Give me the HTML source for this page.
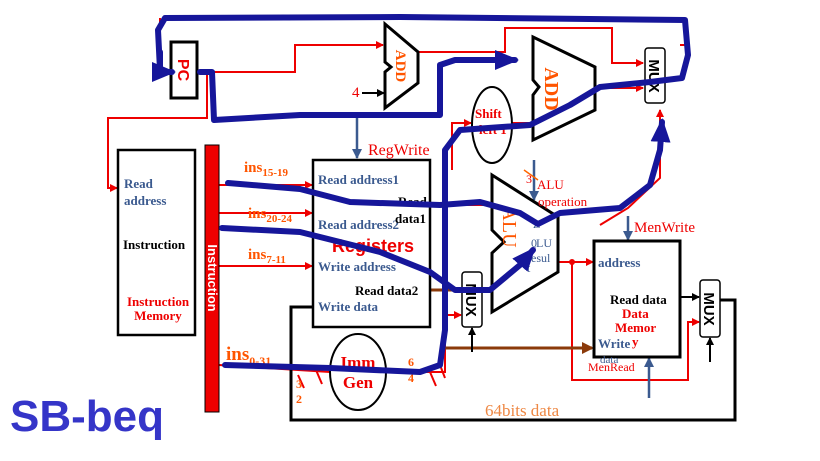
<!DOCTYPE html>
<html><head><meta charset="utf-8"><style>
html,body{margin:0;padding:0;background:#fff;}
svg{display:block;}
.s{font-family:"Liberation Serif",serif;}
.b{font-weight:bold;}
.bl{fill:#3b5a8f;}
</style></head><body>
<svg width="820" height="461" viewBox="0 0 820 461" xmlns="http://www.w3.org/2000/svg">
<defs>
<marker id="ar" markerWidth="8" markerHeight="8" refX="7" refY="4" orient="auto" markerUnits="userSpaceOnUse"><path d="M0,0 L8,4 L0,8 z" fill="#e00"/></marker>
<marker id="ak" markerWidth="8" markerHeight="8" refX="7" refY="4" orient="auto" markerUnits="userSpaceOnUse"><path d="M0,0 L8,4 L0,8 z" fill="#000"/></marker>
<marker id="ab" markerWidth="10" markerHeight="10" refX="9" refY="5" orient="auto" markerUnits="userSpaceOnUse"><path d="M0,0 L10,5 L0,10 z" fill="#3b5a8f"/></marker>
<marker id="an" markerWidth="12" markerHeight="12" refX="10" refY="6" orient="auto" markerUnits="userSpaceOnUse"><path d="M0,0 L12,6 L0,12 z" fill="#8b3a0a"/></marker>
<marker id="aB" markerWidth="24" markerHeight="20" refX="20" refY="10" orient="auto" markerUnits="userSpaceOnUse"><path d="M0,0 L24,10 L0,20 z" fill="#16169a"/></marker>
</defs>

<g stroke="#e00" stroke-width="2" fill="none">
<path d="M160,18 L160,42" />
<path d="M197,72 L295,72 L295,45 L383,45" marker-end="url(#ar)"/>
<path d="M207,72 L207,118 L108,118 L108,188 L117,188" marker-end="url(#ar)"/>
<path d="M418,52 L505,52 L505,28 L612,28 L612,63 L643,63" marker-end="url(#ar)"/>
<path d="M595,88 L643,88" marker-end="url(#ar)"/>
<path d="M452,170 L452,123 L471,123" marker-end="url(#ar)"/>
<path d="M512,123 L532,123"/>
<path d="M219,185 L312,185" marker-end="url(#ar)"/>
<path d="M219,213 L312,213" marker-end="url(#ar)"/>
<path d="M219,266 L312,266" marker-end="url(#ar)"/>
<path d="M219,365 L330,372"/>
<path d="M386,372 L445,372 L445,150"/>
<path d="M445,315 L461,315" marker-end="url(#ar)"/>
<path d="M430,205 L491,205"/>
<path d="M558,262 L593,262" marker-end="url(#ar)"/>
<path d="M572,262 L572,380 L688,380 L688,322 L699,322" marker-end="url(#ar)"/>
<path d="M600,225 L628,208 L660,178 L660,110" marker-end="url(#ar)"/>
<path d="M680,45 L688,45"/>
<path d="M440,365 L445,378 M316,370 L322,384 M298,375 L304,388 M430,372 L436,386"/>
</g>
<circle cx="572" cy="262" r="3" fill="#e00"/>
<circle cx="445" cy="315" r="3" fill="#e00"/>
<path d="M430,290 L462,290" stroke="#8b3a0a" stroke-width="3"/>
<path d="M445,348 L592,348" stroke="#8b3a0a" stroke-width="3" marker-end="url(#an)"/>
<g stroke="#000" stroke-width="2" fill="none">
<path d="M720,300 L735,300 L735,420 L291,420 L291,307 L313,307" stroke-width="3"/>
<path d="M362,93 L384,93" marker-end="url(#ak)"/>
<path d="M680,297 L699,297" marker-end="url(#ak)"/>
<path d="M472,352 L472,328" marker-end="url(#ak)"/>
<path d="M710,362 L710,338" marker-end="url(#ak)"/>
</g>
<g stroke="#3b5a8f" stroke-width="2.5" fill="none">
<path d="M357,118 L357,158" marker-end="url(#ab)"/>
<path d="M534,160 L534,200" marker-end="url(#ab)"/>
<path d="M628,216 L628,240" marker-end="url(#ab)"/>
<path d="M649,398 L649,358" marker-end="url(#ab)"/>
</g>
<path d="M524,170 L538,180" stroke="#f60" stroke-width="1.5"/>

<g stroke="#000" stroke-width="3" fill="#fff">
<rect x="171" y="42" width="26" height="56"/>
<path d="M385,24 L418,52 L418,83 L385,108 L385,72 L391,67 L385,62 Z"/>
<path d="M533,37 L595,67 L595,110 L533,140 L533,95 L539,87 L533,80 Z"/>
<ellipse cx="492" cy="125" rx="20" ry="38" stroke-width="2"/>
<rect x="118" y="150" width="77" height="185" stroke-width="2.5"/>
<rect x="313" y="160" width="117" height="167" stroke-width="2.5"/>
<path d="M492,175 L558,217 L558,272 L492,312 L492,253 L504,242 L492,230 Z"/>
<rect x="594" y="241" width="86" height="116"/>
<ellipse cx="358" cy="372" rx="28" ry="38" stroke-width="2"/>
<rect x="645" y="48" width="20" height="55" rx="3" stroke-width="1.5"/>
<rect x="462" y="272" width="20" height="55" rx="3" stroke-width="1.5"/>
<rect x="700" y="280" width="20" height="57" rx="3" stroke-width="1.5"/>
</g>
<rect x="205" y="145" width="14" height="267" fill="#e00" stroke="#000" stroke-width="1"/>

<text transform="translate(178,70) rotate(90)" text-anchor="middle" font-family="Liberation Sans,sans-serif" font-weight="bold" font-size="16" fill="#e00">PC</text>
<text transform="translate(396,66) rotate(90)" text-anchor="middle" class="s b" font-size="15" fill="#f50">ADD</text>
<text transform="translate(545,89) rotate(90)" text-anchor="middle" class="s b" font-size="20" fill="#f50">ADD</text>
<text transform="translate(503,227) rotate(90)" text-anchor="middle" class="s" font-size="20" fill="#f50">ALU</text>
<text transform="translate(208,278) rotate(90)" text-anchor="middle" font-family="Liberation Sans,sans-serif" font-weight="bold" font-size="13" fill="#fff">Instruction</text>
<g font-family="Liberation Sans,sans-serif" font-weight="bold" font-size="15" fill="#000" text-anchor="middle">
<text transform="translate(649,76) rotate(90)">MUX</text>
<text transform="translate(466,300) rotate(90)">MUX</text>
<text transform="translate(704,309) rotate(90)">MUX</text>
</g>

<g class="s b" font-size="13">
<text x="124" y="188" class="bl">Read</text>
<text x="124" y="205" class="bl">address</text>
<text x="123" y="249" fill="#000">Instruction</text>
<text x="158" y="306" fill="#e00" text-anchor="middle">Instruction</text>
<text x="158" y="320" fill="#e00" text-anchor="middle">Memory</text>
<text x="318" y="184" class="bl">Read address1</text>
<text x="318" y="229" class="bl">Read address2</text>
<text x="318" y="271" class="bl">Write address</text>
<text x="355" y="295" fill="#000">Read data2</text>
<text x="318" y="311" class="bl">Write data</text>
<text x="398" y="206" fill="#000">Read</text>
<text x="395" y="223" fill="#000">data1</text>
<text x="598" y="267" class="bl">address</text>
<text x="610" y="304" fill="#000">Read data</text>
<text x="622" y="318" fill="#e00">Data</text>
<text x="615" y="332" fill="#e00">Memor</text>
<text x="598" y="348" class="bl">Write</text>
<text x="632" y="346" fill="#e00">y</text>
<text x="479" y="134" fill="#e00">left 1</text>
<text x="475" y="118" fill="#e00">Shift</text>
</g>
<text x="600" y="363" class="s bl" font-size="11">data</text>
<text x="373" y="252" text-anchor="middle" font-family="Liberation Sans,sans-serif" font-weight="bold" font-size="18" fill="#e00">Registers</text>
<g class="s" fill="#e00">
<text x="368" y="155" font-size="16">RegWrite</text>
<text x="634" y="232" font-size="15">MenWrite</text>
<text x="537" y="189" font-size="13">ALU</text>
<text x="538" y="206" font-size="13">operation</text>
<text x="526" y="183" font-size="12">3</text>
<text x="352" y="97" font-size="15">4</text>
<text x="588" y="371" font-size="12">MenRead</text>
<text x="485" y="416" font-size="17" fill="#e84">64bits data</text>
</g>
<g class="s" fill="#3b5a8f" font-size="12"><text x="533" y="228">Z</text><text x="531" y="247">0</text><text x="536" y="247">LU</text><text x="527" y="262">resul</text><text x="527" y="272">t</text></g>
<g class="s b" fill="#f50">
<text x="244" y="172" font-size="15">ins<tspan font-size="11" dy="4">15-19</tspan></text>
<text x="248" y="218" font-size="15">ins<tspan font-size="11" dy="4">20-24</tspan></text>
<text x="248" y="259" font-size="15">ins<tspan font-size="11" dy="4">7-11</tspan></text>
<text x="226" y="360" font-size="19">ins<tspan font-size="12" dy="5">0-31</tspan></text>
<text x="408" y="366" font-size="12">6</text>
<text x="408" y="382" font-size="12">4</text>
<text x="296" y="388" font-size="12">3</text>
<text x="296" y="403" font-size="12">2</text>
</g>
<g class="s b" fill="#e00" font-size="17" text-anchor="middle"><text x="358" y="368">Imm</text><text x="358" y="388">Gen</text></g>

<g stroke="#16169a" stroke-width="6" fill="none" stroke-linecap="round" stroke-linejoin="round">
<path d="M200,72 L212,72 L214,120 L300,115 L440,115 L440,65 L455,60 L515,60" marker-end="url(#aB)"/>
<path d="M225,365 L330,368 L420,372 L440,365 L445,330 L445,150 L460,130 L530,125 L570,105 L600,87 L650,82 L682,78 L688,55 L685,20 L400,17 L165,18 L158,30 L160,70" />
<path d="M160,52 L160,72 L172,72" marker-end="url(#aB)"/>
<path d="M228,183 L300,189 L350,202 L440,205 L480,202 L520,213 L538,224 L560,213 L620,208 L650,185 L660,150 L662,122" marker-end="url(#aB)"/>
<path d="M222,228 L300,232 L380,252 L430,272 L455,290 L490,290 L520,265 L533,250" marker-end="url(#aB)"/>
</g>

<text x="10" y="431" font-family="Liberation Sans,sans-serif" font-weight="bold" font-size="44" fill="#3535c8">SB-beq</text>
</svg>
</body></html>
